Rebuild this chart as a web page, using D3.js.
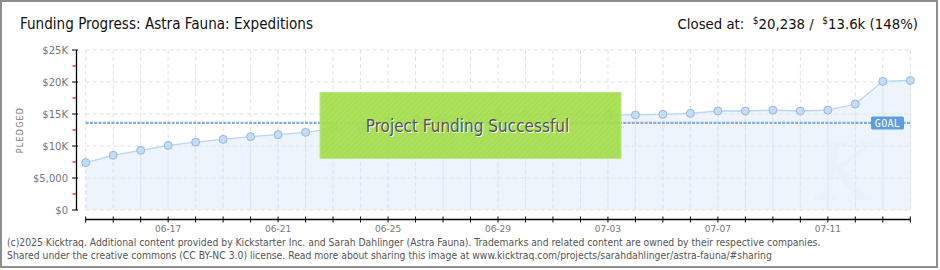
<!DOCTYPE html>
<html><head><meta charset="utf-8">
<script src="https://cdn.jsdelivr.net/npm/d3@7"></script>
<style>
html,body{margin:0;padding:0;background:#fff;}
svg{display:block;}
</style></head>
<body>
<svg id="c" width="940" height="270"></svg>
<script>
const dates = ["06-14","06-15","06-16","06-17","06-18","06-19","06-20","06-21","06-22","06-23","06-24","06-25","06-26","06-27","06-28","06-29","06-30","07-01","07-02","07-03","07-04","07-05","07-06","07-07","07-08","07-09","07-10","07-11","07-12","07-13","07-14"];
const pledged = [7400,8550,9320,10100,10600,11040,11460,11770,12140,12700,13100,13900,14200,14500,14700,14950,14950,14950,14950,14850,14850,14950,15100,15470,15470,15600,15470,15600,16560,20100,20238];
const goal = 13600;
const yTicks = [0,5000,10000,15000,20000,25000];
const yTickLabels = ["$0","$5,000","$10K","$15K","$20K","$25K"];
const xLabelDates = ["06-17","06-21","06-25","06-29","07-03","07-07","07-11"];
const title = "Funding Progress: Astra Fauna: Expeditions";
const closedLabel = ["Closed at:  ", "$", "20,238 /  ", "$", "13.6k (148%)"];
const footer = ["(c)2025 Kicktraq. Additional content provided by Kickstarter Inc. and Sarah Dahlinger (Astra Fauna). Trademarks and related content are owned by their respective companies.",
"Shared under the creative commons (CC BY-NC 3.0) license. Read more about sharing this image at www.kicktraq.com/projects/sarahdahlinger/astra-fauna/#sharing"];

const svg = d3.select("#c");
const parse = s => new Date(2025, +s.slice(0,2)-1, +s.slice(3));
const data = dates.map((d,i)=>({date:parse(d), v:pledged[i]}));

const x = d3.scaleTime().domain([data[0].date, data[data.length-1].date]).range([85.7, 910.3]);
const y = d3.scaleLinear().domain([0,25000]).range([210,50]);

// frame
svg.append("rect").attr("x",1).attr("y",1).attr("width",936).attr("height",266)
  .attr("fill","#fff").attr("stroke","#8e8e8e").attr("stroke-width",2);

// grid
const g = svg.append("g");
g.selectAll(".vg").data(data).join("line")
  .attr("x1",d=>x(d.date)).attr("x2",d=>x(d.date)).attr("y1",50).attr("y2",210)
  .attr("stroke","#e2e2e2").attr("stroke-dasharray","4,3");
g.selectAll(".hg").data(yTicks).join("line")
  .attr("x1",85.7).attr("x2",910.3).attr("y1",d=>y(d)).attr("y2",d=>y(d))
  .attr("stroke","#e2e2e2").attr("stroke-dasharray","4,3");

// area
const area = d3.area().x(d=>x(d.date)).y0(y(0)).y1(d=>y(d.v));
svg.append("path").datum(data).attr("d",area).attr("fill","#dbe9fa").attr("fill-opacity",0.5);
const g2 = svg.append("g");
g2.selectAll("line").data(data).join("line")
  .attr("x1",d=>x(d.date)).attr("x2",d=>x(d.date)).attr("y1",d=>y(d.v)).attr("y2",210)
  .attr("stroke","#dde5ee").attr("stroke-dasharray","4,3");

// watermark
svg.append("text").attr("x",815).attr("y",200).attr("font-family","DejaVu Serif").attr("font-style","italic")
  .attr("font-size",80).attr("fill","#e6eef7").attr("opacity",0.35).text("K");

const line = d3.line().x(d=>x(d.date)).y(d=>y(d.v));
svg.append("path").datum(data).attr("d",line).attr("fill","none").attr("stroke","#b9d5f2").attr("stroke-width",1.3);

// goal line
svg.append("line").attr("x1",85.7).attr("x2",910.3).attr("y1",y(goal)).attr("y2",y(goal))
  .attr("stroke","#86acd9").attr("stroke-width",2.2).attr("stroke-dasharray","3,1.3");

// dots
svg.selectAll(".dot").data(data).join("circle")
  .attr("cx",d=>x(d.date)).attr("cy",d=>y(d.v)).attr("r",4)
  .attr("fill","#c4dcf6").attr("stroke","#98b7da").attr("stroke-width",1);

// GOAL label
const gy = y(goal);
svg.append("rect").attr("x",871).attr("y",gy-6.5).attr("width",33).attr("height",13).attr("rx",1.5)
  .attr("fill","#5d9de0");
svg.append("text").attr("x",887.5).attr("y",gy+4).attr("text-anchor","middle")
  .attr("font-family","DejaVu Sans Mono").attr("font-size",10).attr("fill","#fff").attr("letter-spacing",0.3).text("GOAL");

// success box
const pat = svg.append("defs").append("pattern").attr("id","hatch").attr("width",4).attr("height",4)
  .attr("patternUnits","userSpaceOnUse").attr("patternTransform","rotate(45)");
pat.append("rect").attr("width",4).attr("height",4).attr("fill","#a6df4e");
pat.append("line").attr("x1",0).attr("y1",0).attr("x2",0).attr("y2",4).attr("stroke","#9ed446").attr("stroke-width",1);
svg.append("rect").attr("x",320).attr("y",92.5).attr("width",301).attr("height",66)
  .attr("fill","url(#hatch)").attr("opacity",0.93).attr("stroke","#b8e870").attr("stroke-width",1);
svg.append("text").attr("x",468.5).attr("y",133).attr("text-anchor","middle")
  .attr("font-family","DejaVu Sans Condensed").attr("font-size",17).attr("fill","#fff").text("Project Funding Successful");
svg.append("text").attr("x",467.5).attr("y",132).attr("text-anchor","middle")
  .attr("font-family","DejaVu Sans Condensed").attr("font-size",17).attr("fill","#555").text("Project Funding Successful");

// y axis
const ya = svg.append("g");
ya.append("line").attr("x1",76.5).attr("x2",76.5).attr("y1",50).attr("y2",210).attr("stroke","#000").attr("stroke-width",1.3);
ya.selectAll(".mj").data(yTicks).join("line").attr("x1",72).attr("x2",78).attr("y1",d=>y(d)).attr("y2",d=>y(d)).attr("stroke","#000");
ya.selectAll(".mn").data(yTicks.slice(0,-1)).join("line").attr("x1",72.5).attr("x2",76).attr("y1",d=>y(d+2500)).attr("y2",d=>y(d+2500)).attr("stroke","#f00").attr("stroke-width",1.2);
ya.selectAll("text").data(yTicks).join("text").attr("x",68).attr("y",d=>y(d)+4).attr("text-anchor","end")
  .attr("font-family","DejaVu Sans").attr("font-size",10).attr("fill","#777").text((d,i)=>yTickLabels[i]);
svg.append("text").attr("transform","translate(23,130) rotate(-90)").attr("text-anchor","middle")
  .attr("font-family","DejaVu Sans").attr("font-size",8).attr("letter-spacing",1.2).attr("fill","#777").text("PLEDGED");

// x axis
const xa = svg.append("g");
xa.append("line").attr("x1",85.7).attr("x2",910.3).attr("y1",219.5).attr("y2",219.5).attr("stroke","#000").attr("stroke-width",1.3);
xa.selectAll(".t").data(data).join("line").attr("x1",d=>x(d.date)).attr("x2",d=>x(d.date)).attr("y1",216.5).attr("y2",222.5).attr("stroke","#000");
xa.selectAll("text").data(xLabelDates).join("text").attr("x",d=>x(parse(d))).attr("y",232).attr("text-anchor","middle")
  .attr("font-family","DejaVu Sans").attr("font-size",9).attr("fill","#777").text(d=>d);

// title
svg.append("text").attr("x",20).attr("y",29).attr("font-family","DejaVu Sans Condensed").attr("font-size",15.1).attr("fill","#111").text(title);
const ct = svg.append("text").attr("x",918).attr("y",29).attr("text-anchor","end").attr("font-family","DejaVu Sans Condensed").attr("font-size",14.8).attr("fill","#111").attr("xml:space","preserve").style("white-space","pre");
closedLabel.forEach((s,i)=>{
  const t = ct.append("tspan").text(s);
  if (s==="$") t.attr("font-size",10).attr("dy",-5);
  else if (i>0) t.attr("dy",5);
});

// footer
footer.forEach((f,i)=>{
  svg.append("text").attr("x",7).attr("y",245.5+i*13.5).attr("font-family","DejaVu Sans Condensed").attr("font-size",10.3).attr("fill","#555").text(f);
});
</script>
</body></html>
